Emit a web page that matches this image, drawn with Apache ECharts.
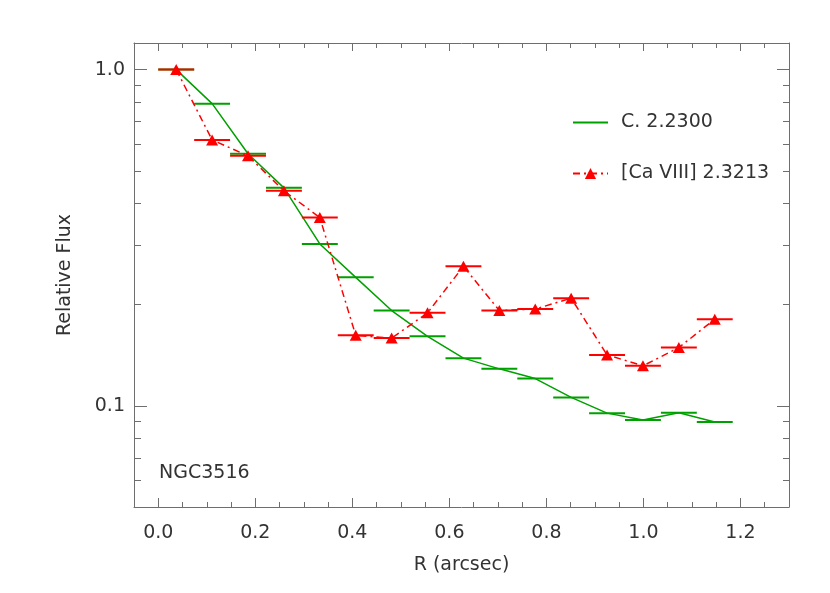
<!DOCTYPE html>
<html>
<head>
<meta charset="utf-8">
<script src="https://cdn.jsdelivr.net/npm/echarts@6/dist/echarts.min.js"></script>
<style>
  html, body { margin: 0; padding: 0; background: #fff; }
  #chart { width: 830px; height: 593px; }
</style>
</head>
<body>
<div id="chart"></div>
<script>
// bin centres (arcsec) and half widths
const radius = [0.037, 0.111, 0.185, 0.259, 0.333, 0.407, 0.481, 0.555, 0.629, 0.703, 0.777, 0.851, 0.925, 0.999, 1.073, 1.147];
const halfBin = [0.037, 0.037, 0.037, 0.037, 0.037, 0.037, 0.037, 0.037, 0.037, 0.037, 0.037, 0.037, 0.037, 0.037, 0.037, 0.037];
const contFlux = [1.0, 0.792, 0.562, 0.445, 0.303, 0.241, 0.192, 0.161, 0.1386, 0.1288, 0.1205, 0.1059, 0.0951, 0.0907, 0.0953, 0.0895];
const caFlux = [1.0, 0.618, 0.554, 0.436, 0.363, 0.162, 0.159, 0.189, 0.260, 0.192, 0.194, 0.209, 0.1417, 0.1315, 0.149, 0.181];

const xMajor = [0, 0.2, 0.4, 0.6, 0.8, 1.0, 1.2];
const xMinor = [0.05, 0.1, 0.15, 0.25, 0.3, 0.35, 0.45, 0.5, 0.55, 0.65, 0.7, 0.75, 0.85, 0.9, 0.95, 1.05, 1.1, 1.15, 1.25];
const yMajor = [0.1, 1];
const yMinor = [0.06, 0.07, 0.08, 0.09, 0.2, 0.3, 0.4, 0.5, 0.6, 0.7, 0.8, 0.9];

const axisColor = '#6e6e6e';
const textColor = '#333';
const fontFam = 'DejaVu Sans';
const fontSize = 19;
const green = '#00a000';
const red = '#ff0000';

const gridBox = { left: 134, right: 41, top: 43, bottom: 86 };

function xAx(grid, pos, ticks, len, labels) {
  return {
    type: 'value', gridIndex: grid, position: pos, min: -0.05, max: 1.3,
    axisLine: { show: grid === 0, onZero: false, lineStyle: { color: axisColor, width: 1 } },
    axisTick: { inside: true, length: len, customValues: ticks, lineStyle: { color: axisColor } },
    axisLabel: labels ? {
      customValues: xMajor, margin: 17, color: textColor, fontFamily: fontFam, fontSize: fontSize,
      formatter: v => v.toFixed(1)
    } : { show: false },
    splitLine: { show: false }
  };
}

function yAx(grid, pos, ticks, len, labels) {
  return {
    type: 'log', logBase: 10, gridIndex: grid, position: pos, min: 0.05, max: 1.2,
    axisLine: { show: grid === 0, onZero: false, lineStyle: { color: axisColor, width: 1 } },
    axisTick: { inside: true, length: len, customValues: ticks, lineStyle: { color: axisColor } },
    axisLabel: labels ? {
      customValues: yMajor, margin: 9, color: textColor, fontFamily: fontFam, fontSize: fontSize,
      formatter: v => v.toFixed(1)
    } : { show: false },
    splitLine: { show: false }
  };
}

function errBars(name, vals, color) {
  return {
    type: 'custom', name: name, silent: true, z: 3,
    xAxisIndex: 0, yAxisIndex: 0,
    encode: { x: 0, y: 1 },
    data: radius.map((r, i) => [r, vals[i], halfBin[i]]),
    renderItem(params, api) {
      const y = api.value(1);
      const a = api.coord([api.value(0) - api.value(2), y]);
      const b = api.coord([api.value(0) + api.value(2), y]);
      return {
        type: 'line',
        shape: { x1: a[0], y1: a[1], x2: b[0], y2: b[1] },
        style: { stroke: color, lineWidth: 2 }
      };
    }
  };
}

const chart = echarts.init(document.getElementById('chart'));
chart.setOption({
  backgroundColor: '#fff',
  animation: false,
  grid: [
    Object.assign({ containLabel: false }, gridBox),
    Object.assign({ containLabel: false }, gridBox)
  ],
  xAxis: [
    Object.assign(xAx(0, 'bottom', xMajor, 9, true), {
      name: 'R (arcsec)', nameLocation: 'middle', nameGap: 49,
      nameTextStyle: { color: textColor, fontFamily: fontFam, fontSize: fontSize }
    }),
    xAx(0, 'top', xMajor, 8, false),
    xAx(1, 'bottom', xMinor, 5, false),
    xAx(1, 'top', xMinor, 5, false)
  ],
  yAxis: [
    Object.assign(yAx(0, 'left', yMajor, 13, true), {
      name: 'Relative Flux', nameLocation: 'middle', nameGap: 59, nameRotate: 90,
      nameTextStyle: { color: textColor, fontFamily: fontFam, fontSize: fontSize }
    }),
    yAx(0, 'right', yMajor, 12, false),
    yAx(1, 'left', yMinor, 7, false),
    yAx(1, 'right', yMinor, 6, false)
  ],
  legend: {
    data: [
      { name: 'C. 2.2300', itemStyle: { opacity: 0 } },
      { name: '[Ca VIII] 2.3213' }
    ],
    orient: 'vertical', left: 572, top: 113, padding: 0,
    itemWidth: 35, itemHeight: 14, itemGap: 32,
    textStyle: { color: textColor, fontFamily: fontFam, fontSize: fontSize, padding: [0, 0, 0, 8] }
  },
  graphic: [{
    type: 'text', left: 159, top: 464,
    style: { text: 'NGC3516', fill: textColor, font: fontSize + 'px "DejaVu Sans"' }
  }],
  series: [
    errBars('contErr', contFlux, green),
    errBars('caErr', caFlux, red),
    {
      name: 'C. 2.2300', type: 'line', xAxisIndex: 0, yAxisIndex: 0,
      data: radius.map((r, i) => [r, contFlux[i]]),
      showSymbol: false, symbol: 'none',
      lineStyle: { color: green, width: 1.5 }, itemStyle: { color: green },
      z: 2
    },
    {
      name: '[Ca VIII] 2.3213', type: 'line', xAxisIndex: 0, yAxisIndex: 0,
      data: radius.map((r, i) => [r, caFlux[i]]),
      symbol: 'triangle', symbolSize: [12, 11],
      lineStyle: { color: red, width: 1.5, type: [7, 4, 2, 4] },
      itemStyle: { color: red },
      z: 4
    }
  ]
});
</script>
</body>
</html>
